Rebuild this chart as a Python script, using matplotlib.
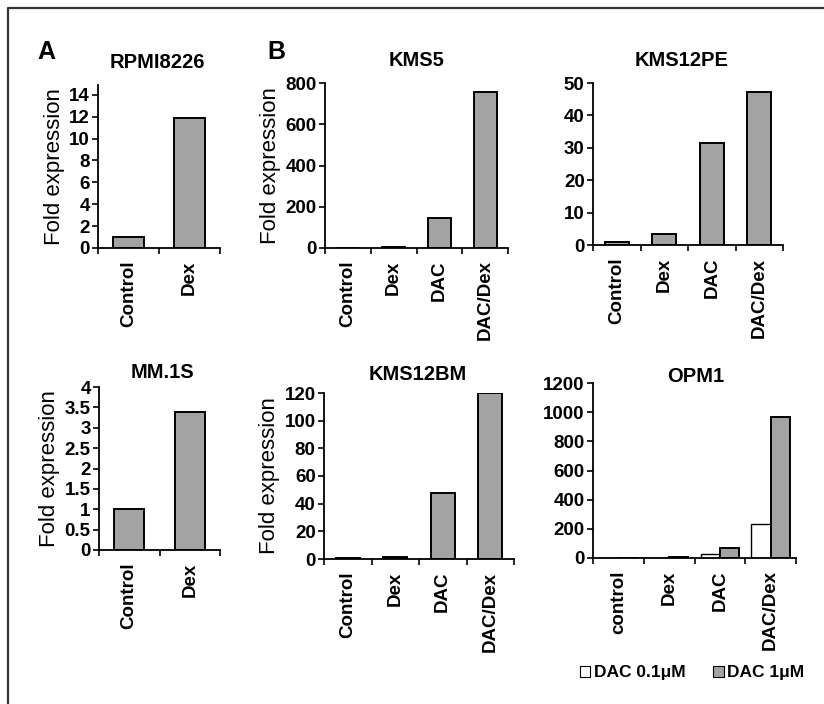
import numpy as np
import matplotlib
matplotlib.use('Agg')
import matplotlib.pyplot as plt
from matplotlib.lines import Line2D
from matplotlib.patches import Patch

plt.rcParams['font.family'] = ['Liberation Sans', 'DejaVu Sans']

# data
cats2 = ['Control', 'Dex']
cats4 = ['Control', 'Dex', 'DAC', 'DAC/Dex']
cats_opm = ['control', 'Dex', 'DAC', 'DAC/Dex']

rpmi = [1.0, 11.9]
mm1s = [1.0, 3.38]
kms5 = [1, 4, 145, 756]
kms12pe = [1.0, 3.3, 31.6, 47.2]
kms12bm = [1.0, 1.5, 47.6, 120]
opm1_low = [1, 3, 27, 233]     # DAC 0.1uM
opm1_high = [1, 5, 69, 966]    # DAC 1uM

GRAY = '#a3a3a3'
W, H = 824, 704
TICKFS = 13.5

fig = plt.figure(figsize=(8.24, 7.04), dpi=100)


def box(x0, x1, ytop, ybot):
    return [x0 / W, 1 - ybot / H, (x1 - x0) / W, (ybot - ytop) / H]


def style(ax, cats, ymax, yticks, ylabels=None):
    n = len(cats)
    ax.set_xlim(-0.5, n - 0.5)
    ax.set_ylim(0, ymax)
    ax.set_yticks(yticks)
    if ylabels is not None:
        ax.set_yticklabels(ylabels)
    ax.set_xticks(range(n))
    ax.set_xticklabels(cats, rotation=90, fontsize=TICKFS, fontweight='bold')
    ax.set_xticks(np.arange(-0.5, n), minor=True)
    ax.tick_params(axis='x', which='major', length=0, pad=9)
    ax.tick_params(axis='x', which='minor', length=4, width=1.2, direction='out')
    ax.tick_params(axis='y', length=4, width=1.2, direction='out', pad=2)
    for lab in ax.get_yticklabels():
        lab.set_fontweight('bold')
        lab.set_fontsize(TICKFS)
    for s in ['top', 'right']:
        ax.spines[s].set_visible(False)
    for s in ['left', 'bottom']:
        ax.spines[s].set_linewidth(1.3)


def simple(rect, cats, vals, ymax, yticks, ylabels=None, ylabel=True):
    ax = fig.add_axes(rect)
    ax.bar(range(len(vals)), vals, width=0.5, color=GRAY,
           edgecolor='black', linewidth=1.4)
    style(ax, cats, ymax, yticks, ylabels)
    if ylabel:
        ax.set_ylabel('Fold expression', fontsize=16, labelpad=3)
    return ax


ax1 = simple(box(98, 220, 85, 248), cats2, rpmi, 14.9, range(0, 15, 2),
             [str(v) for v in range(0, 15, 2)])
ax2 = simple(box(325, 508, 83, 248), cats4, kms5, 800, range(0, 801, 200))
ax3 = simple(box(593, 783, 83, 245), cats4, kms12pe, 50, range(0, 51, 10), ylabel=False)
ax4 = simple(box(99, 220, 387, 550), cats2, mm1s, 4, np.arange(0, 4.01, 0.5),
             ['0', '0.5', '1', '1.5', '2', '2.5', '3', '3.5', '4'])
ax5 = simple(box(324, 514, 393, 559), cats4, kms12bm, 120, range(0, 121, 20))

ax6 = fig.add_axes(box(593, 796, 383, 558))
x = np.arange(len(cats_opm))
ax6.bar(x - 0.19, opm1_low, width=0.38, color='white', edgecolor='black', linewidth=1.0)
ax6.bar(x + 0.19, opm1_high, width=0.38, color=GRAY, edgecolor='black', linewidth=1.4)
style(ax6, cats_opm, 1200, range(0, 1201, 200))

# titles
titles = [('RPMI8226', 157, 62), ('KMS5', 417, 60), ('KMS12PE', 682, 61),
          ('MM.1S', 162, 373), ('KMS12BM', 418, 374), ('OPM1', 696, 377)]
for t, tx, ty in titles:
    fig.text(tx / W, 1 - ty / H, t, ha='center', va='center',
             fontsize=14.5, fontweight='bold')

fig.text(46 / W, 1 - 52 / H, 'A', ha='center', va='center', fontsize=18, fontweight='bold')
fig.text(276 / W, 1 - 52 / H, 'B', ha='center', va='center', fontsize=18, fontweight='bold')

# legend
handles = [Patch(facecolor='white', edgecolor='black', linewidth=0.8),
           Patch(facecolor=GRAY, edgecolor='black', linewidth=0.8)]
fig.legend(handles, ['DAC 0.1μM', 'DAC 1μM'], loc='center',
           bbox_to_anchor=(692 / W, 1 - 673 / H), ncol=2, frameon=False,
           handlelength=0.6, handleheight=0.6, handletextpad=0.2,
           columnspacing=1.6, prop={'weight': 'bold', 'size': 12.5})

# frame (left and top edges)
fig.add_artist(Line2D([8 / W, 8 / W, 1], [0, 1 - 8 / H, 1 - 8 / H],
                      color='#333333', linewidth=1.6, transform=fig.transFigure))

fig.savefig('out.png', dpi=100)
